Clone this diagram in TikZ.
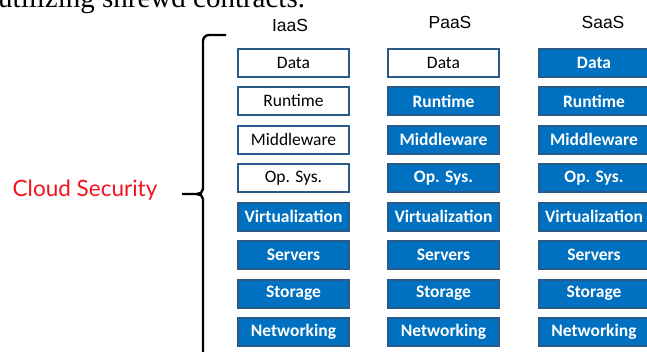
\documentclass[tikz,border=0pt]{standalone}
\usepackage{fontspec}
\setmainfont{Liberation Serif}
\newfontfamily\layerfont{Carlito}
\newfontfamily\headfont{Liberation Sans}
\newfontfamily\cloudfont{Lato}
\usepackage{tikz}

\definecolor{layerblue}{HTML}{0070C0}
\definecolor{layeredge}{HTML}{2A5A88}
\definecolor{cloudred}{HTML}{F0141E}

\begin{document}
\begin{tikzpicture}[x=1pt,y=-1pt,
    layer/.style={draw=layeredge,line width=2pt,minimum width=111pt,minimum height=28pt,
        inner sep=0pt,font=\layerfont\fontsize{17.5}{18}\selectfont},
    own/.style={layer,fill=white,text=black},
    managed/.style={layer,fill=layerblue,text=white,font=\layerfont\bfseries\fontsize{17.5}{18}\selectfont},
    head/.style={font=\headfont\fontsize{17.5}{18}\selectfont}]
    \useasboundingbox (0,0) rectangle (647,351);
    \clip (0,0) rectangle (647,351);

    % cut-off line of the page text above
    \node[anchor=base west,inner sep=0pt,font=\fontsize{29}{30}\selectfont] (pagetext) at (-2,7) {utilizing shrewd contracts.};

    % column heads
    \node[head] (iaas) at (290,25) {IaaS};
    \node[head] (paas) at (450,22) {PaaS};
    \node[head] (saas) at (603,22) {SaaS};

    % IaaS stack
    \node[own] (i1) at (293.5,62.5) {Data};
    \node[own] (i2) at (293.5,101) {Runtime};
    \node[own] (i3) at (293.5,139.5) {Middleware};
    \node[own] (i4) at (293.5,178) {Op. Sys.};
    \node[managed] (i5) at (293.5,216.5) {Virtualization};
    \node[managed] (i6) at (293.5,255) {Servers};
    \node[managed] (i7) at (293.5,293.5) {Storage};
    \node[managed] (i8) at (293.5,332) {Networking};

    % PaaS stack
    \node[own] (p1) at (443.5,62.5) {Data};
    \node[managed] (p2) at (443.5,101) {Runtime};
    \node[managed] (p3) at (443.5,139.5) {Middleware};
    \node[managed] (p4) at (443.5,178) {Op. Sys.};
    \node[managed] (p5) at (443.5,216.5) {Virtualization};
    \node[managed] (p6) at (443.5,255) {Servers};
    \node[managed] (p7) at (443.5,293.5) {Storage};
    \node[managed] (p8) at (443.5,332) {Networking};

    % SaaS stack
    \node[managed] (s1) at (594,62.5) {Data};
    \node[managed] (s2) at (594,101) {Runtime};
    \node[managed] (s3) at (594,139.5) {Middleware};
    \node[managed] (s4) at (594,178) {Op. Sys.};
    \node[managed] (s5) at (594,216.5) {Virtualization};
    \node[managed] (s6) at (594,255) {Servers};
    \node[managed] (s7) at (594,293.5) {Storage};
    \node[managed] (s8) at (594,332) {Networking};

    % brace and label
    \node[text=cloudred,font=\cloudfont\fontsize{22.5}{24}\selectfont] (cloud) at (85,190) {Cloud Security};
    \coordinate (bracetop) at (226,35);
    \coordinate (bracetip) at (182,194);
    \coordinate (bracebottom) at (203,360);
    \draw[line width=2.4pt] (bracetop) -- (209,35) to[out=180,in=90] (203,41)
        -- (203,189) to[out=-90,in=0] (197,194) -- (bracetip);
    \draw[line width=2.4pt] (197,194) to[out=0,in=90] (203,199) -- (bracebottom);
\end{tikzpicture}
\end{document}
